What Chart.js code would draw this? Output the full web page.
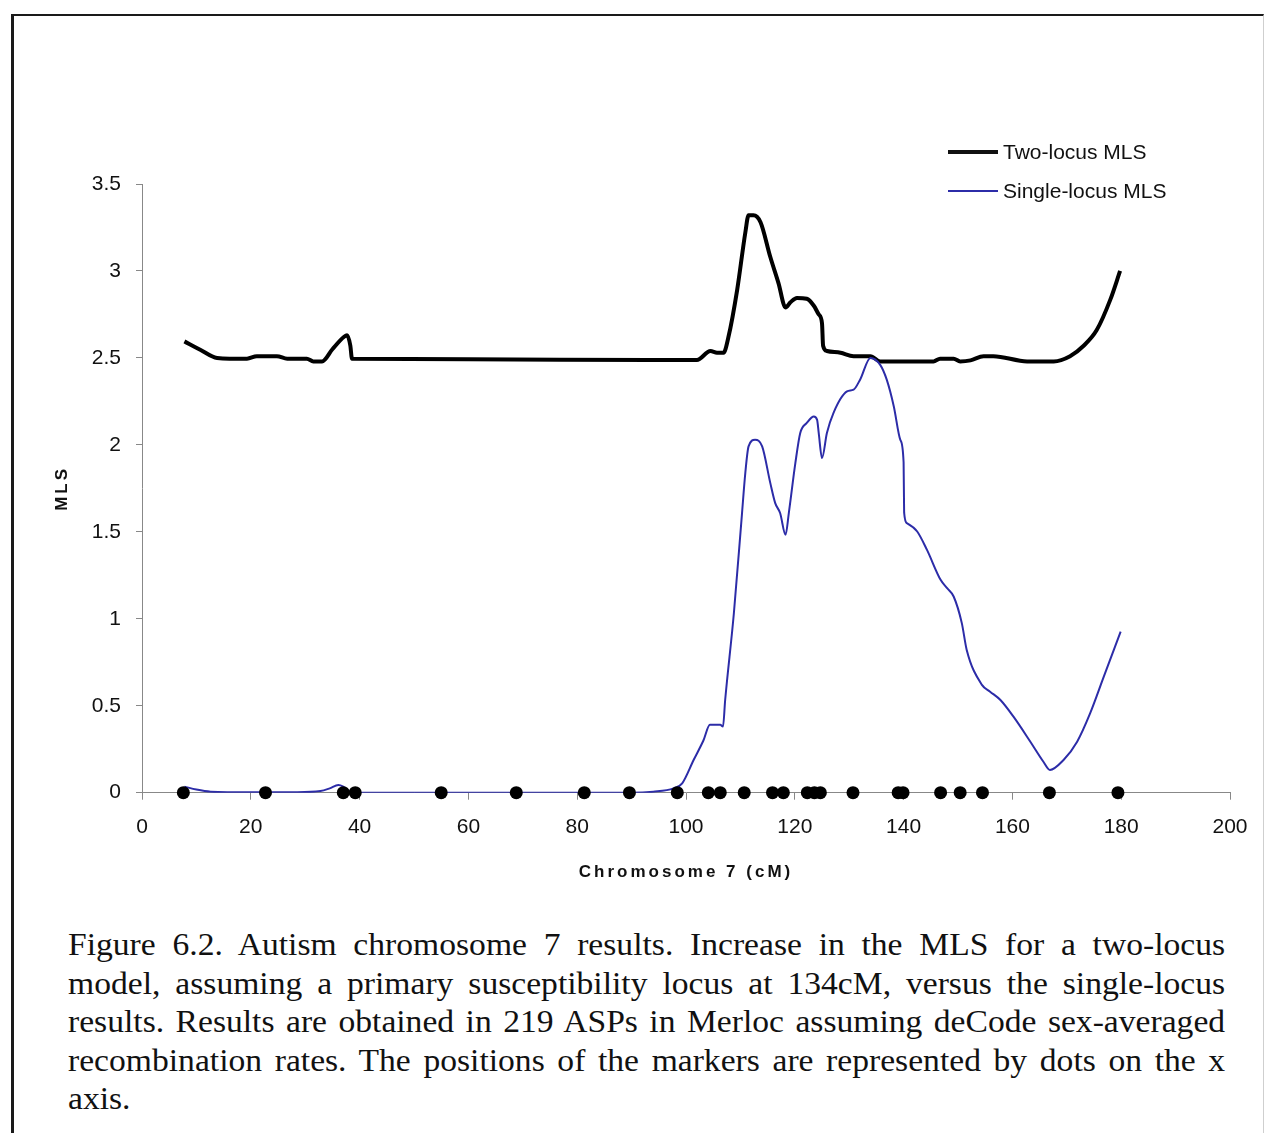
<!DOCTYPE html>
<html>
<head>
<meta charset="utf-8">
<script src="https://cdn.jsdelivr.net/npm/chart.js@4.4.1/dist/chart.umd.min.js"></script>
<style>
  html, body { margin: 0; padding: 0; background: #fff; }
  body { width: 1265px; height: 1133px; position: relative; overflow: hidden; }
  #frame { position: absolute; left: 11px; top: 14px; width: 1249px; height: 1200px;
           border-left: 3px solid #1a1a1a; border-top: 2px solid #1a1a1a; border-right: 1px solid #cfcfcf; }
  #chart { position: absolute; left: 0; top: 0; }
  .leg { position: absolute; font-family: 'Liberation Sans', Arial, sans-serif; font-size: 21px; color: #111; line-height: 24px; }
  .sw { position: absolute; }
  #caption { position: absolute; left: 68px; top: 925px; width: 1102px; transform: scaleX(1.05); transform-origin: 0 0;
             font-family: 'Liberation Serif', 'Times New Roman', serif; font-size: 32px; line-height: 38.5px; color: #111; }
  #caption div { text-align: justify; text-align-last: justify; }
  #caption div.last { text-align: left; text-align-last: left; }
</style>
</head>
<body>
<div id="frame"></div>
<canvas id="chart" width="1265" height="900"></canvas>
<div class="sw" style="left:948px; top:150px; width:50px; height:4px; background:#111;"></div>
<div class="leg" style="left:1003px; top:140px;">Two-locus MLS</div>
<div class="sw" style="left:948px; top:190px; width:50px; height:2px; background:#2c2ca8;"></div>
<div class="leg" style="left:1003px; top:179px;">Single-locus MLS</div>
<div id="caption">
  <div>Figure 6.2. Autism chromosome 7 results. Increase in the MLS for a two-locus</div>
  <div>model, assuming a primary susceptibility locus at 134cM, versus the single-locus</div>
  <div>results. Results are obtained in 219 ASPs in Merloc assuming deCode sex-averaged</div>
  <div>recombination rates. The positions of the markers are represented by dots on the x</div>
  <div class="last">axis.</div>
</div>
<script>
// ---- data ----
const twoLocusX = [7.8, 10.7, 13.8, 19.3, 21.1, 24.8, 26.7, 30.3, 31.5, 33.1, 35.0, 37.1, 37.7, 38.3, 38.6,
  60, 93.5, 102.0, 104.5, 105.7, 106.9, 107.8, 109.4, 110.9, 111.5, 112.4, 113.7, 115.5, 117.0, 118.3,
  119.2, 120.4, 122.2, 123.5, 124.4, 125.0, 125.2, 125.9, 128.4, 130.8, 133.9, 135.7, 145.5, 146.7,
  149.2, 150.4, 152.3, 154.7, 156.5, 162.7, 167.6, 170.6, 173.1, 175.5, 178.0, 179.8];
const twoLocusY = [2.595, 2.547, 2.50, 2.495, 2.51, 2.51, 2.495, 2.495, 2.48, 2.48, 2.55, 2.62, 2.63, 2.57, 2.495,
  2.492, 2.488, 2.488, 2.54, 2.53, 2.53, 2.62, 2.89, 3.22, 3.32, 3.32, 3.28, 3.08, 2.93, 2.79,
  2.82, 2.845, 2.84, 2.80, 2.75, 2.70, 2.57, 2.54, 2.53, 2.51, 2.51, 2.48, 2.48, 2.495,
  2.495, 2.48, 2.486, 2.51, 2.51, 2.48, 2.48, 2.51, 2.57, 2.66, 2.835, 3.0];

const singleLocusX = [7.8, 10.0, 12.6, 20, 28, 32.8, 34.5, 36.1, 37.0, 38.3, 39.2, 60, 89.8, 94.0, 97.7,
  99.3, 101.4, 103.2, 104.4, 106.3, 106.8, 107.2, 108.8, 110.3, 110.9, 111.5, 112.7, 114.0, 115.5,
  116.4, 117.3, 118.3, 118.9, 120.1, 121.0, 122.2, 123.5, 124.1, 124.4, 125.0, 125.9, 127.1, 129.6,
  130.8, 132.0, 133.9, 135.7, 136.9, 138.2, 139.4, 140.0, 140.1, 140.6, 142.5, 144.3, 146.8, 148.0,
  149.2, 150.7, 151.6, 154.4, 155.9, 157.8, 160.2, 163.3, 165.7, 166.9, 169.4, 171.9, 174.3, 176.8, 179.9];
const singleLocusY = [0.035, 0.018, 0.006, 0.002, 0.003, 0.01, 0.025, 0.044, 0.035, 0.005, 0, 0, 0, 0.006, 0.025,
  0.054, 0.188, 0.30, 0.39, 0.39, 0.38, 0.533, 1.032, 1.608, 1.838, 1.991, 2.029, 1.991, 1.78,
  1.665, 1.608, 1.483, 1.608, 1.895, 2.068, 2.126, 2.163, 2.144, 2.068, 1.924, 2.068, 2.183, 2.307,
  2.317, 2.375, 2.50, 2.46, 2.375, 2.221, 2.029, 1.90, 1.61, 1.55, 1.502, 1.396, 1.224, 1.176,
  1.128, 0.975, 0.821, 0.62, 0.581, 0.533, 0.437, 0.293, 0.178, 0.131, 0.188, 0.293, 0.457, 0.667, 0.926];

const markerPositions = [7.6, 22.7, 37.0, 39.2, 55.0, 68.8, 81.3, 89.6, 98.4, 104.1, 106.3, 110.7, 115.9,
  117.9, 122.3, 123.6, 124.7, 130.7, 139.0, 139.9, 146.8, 150.4, 154.5, 166.8, 179.4];

const seriesNames = ['Two-locus MLS', 'Single-locus MLS', 'Markers'];
const xTitle = 'Chromosome 7 (cM)';
const yTitle = 'MLS';

// ---- build datasets ----
const toPts = (xs, ys) => xs.map((x, i) => ({ x: x, y: ys[i] }));

Chart.defaults.font.family = "'Liberation Sans', Arial, sans-serif";
Chart.defaults.color = '#111';

const titleSpacing = {
  id: 'titleSpacing',
  beforeDraw(chart) { chart.ctx.letterSpacing = '3px'; },
  beforeDatasetsDraw(chart) { chart.ctx.letterSpacing = '0px'; }
};

new Chart(document.getElementById('chart'), {
  type: 'line',
  data: {
    datasets: [
      { label: seriesNames[2], data: markerPositions.map(x => ({ x: x, y: 0 })), showLine: false,
        pointRadius: 6.5, pointBackgroundColor: '#000', pointBorderColor: '#000', pointBorderWidth: 0,
        order: 0, clip: false },
      { label: seriesNames[1], data: toPts(singleLocusX, singleLocusY), borderColor: '#2c2ca8', borderWidth: 2,
        pointRadius: 0, cubicInterpolationMode: 'monotone', fill: false, order: 1 },
      { label: seriesNames[0], data: toPts(twoLocusX, twoLocusY), borderColor: '#000', borderWidth: 4,
        pointRadius: 0, cubicInterpolationMode: 'monotone', fill: false, order: 2 }
    ]
  },
  options: {
    responsive: false,
    animation: false,
    devicePixelRatio: 1,
    layout: { padding: { left: 0, top: 184, right: 35, bottom: 0 } },
    plugins: { legend: { display: false }, tooltip: { enabled: false } },
    scales: {
      x: {
        type: 'linear', min: 0, max: 200,
        ticks: { stepSize: 20, padding: 15, font: { size: 21 }, color: '#111', z: 1 },
        grid: { drawOnChartArea: false, drawTicks: true, tickLength: 7, color: '#888' },
        border: { display: true, color: '#888', width: 1 },
        title: { display: true, text: xTitle, font: { size: 17, weight: 'bold' }, color: '#111',
                 padding: { top: 0, bottom: 17 } },
        afterFit(scale) { scale.height = 107.3; }
      },
      y: {
        min: 0, max: 3.5,
        ticks: { stepSize: 0.5, padding: 15, font: { size: 21 }, color: '#111', z: 1,
                 callback: (v) => String(v) },
        grid: { drawOnChartArea: false, drawTicks: true, tickLength: 6, color: '#888' },
        border: { display: true, color: '#888', width: 1 },
        title: { display: true, text: yTitle, font: { size: 17, weight: 'bold' }, color: '#111',
                 padding: { top: 52, bottom: 0 } },
        afterFit(scale) { scale.width = 142; }
      }
    }
  },
  plugins: [titleSpacing]
});
</script>
</body>
</html>
